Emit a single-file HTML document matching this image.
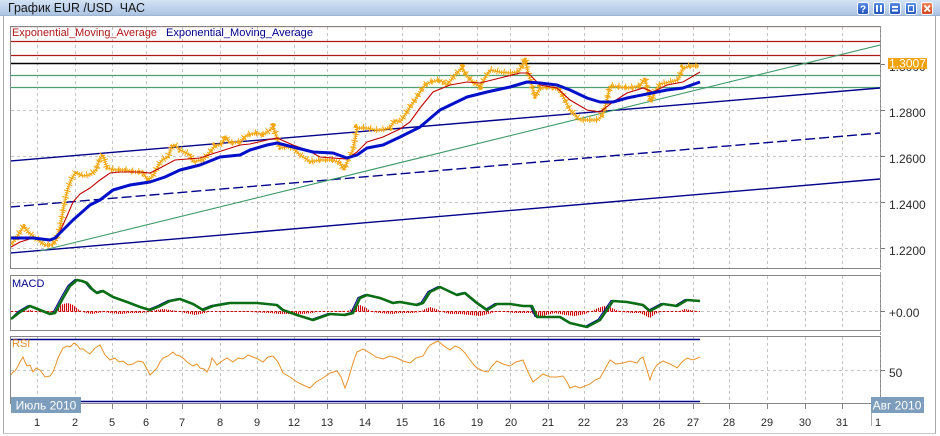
<!DOCTYPE html>
<html><head><meta charset="utf-8"><style>
html,body{margin:0;padding:0;background:#fff;}
svg{display:block;font-family:"Liberation Sans","DejaVu Sans",sans-serif;}
</style></head><body>
<svg width="940" height="436" viewBox="0 0 940 436" xmlns="http://www.w3.org/2000/svg">
<defs>
<linearGradient id="tb" x1="0" y1="0" x2="0" y2="1"><stop offset="0" stop-color="#d4e3f5"/><stop offset="1" stop-color="#a8c1e1"/></linearGradient>
<linearGradient id="bb" x1="0" y1="0" x2="0" y2="1"><stop offset="0" stop-color="#5b8fe6"/><stop offset="1" stop-color="#1f50b8"/></linearGradient>
<linearGradient id="br" x1="0" y1="0" x2="0" y2="1"><stop offset="0" stop-color="#f08a5a"/><stop offset="1" stop-color="#d0401c"/></linearGradient>
<clipPath id="cm"><rect x="11" y="27" width="869" height="241"/></clipPath>
<pattern id="hp" width="2" height="4" patternUnits="userSpaceOnUse"><rect x="0" y="0" width="1.1" height="4" fill="#d00000"/></pattern>
</defs>
<rect width="940" height="436" fill="#fff"/>
<rect x="0" y="0" width="940" height="16" fill="url(#tb)"/>
<line x1="0" y1="15.5" x2="940" y2="15.5" stroke="#9fb4cf"/>
<text x="8" y="12" font-size="12.5" fill="#151515" textLength="137" lengthAdjust="spacingAndGlyphs">График EUR /USD&#160;&#160;ЧАС</text>
<g stroke="#fff" stroke-width="1">
<rect x="857.5" y="2.5" width="11" height="12" rx="2" fill="url(#bb)"/>
<rect x="873.5" y="2.5" width="11" height="12" rx="2" fill="url(#bb)"/>
<rect x="889.5" y="2.5" width="11" height="12" rx="2" fill="url(#bb)"/>
<rect x="905.5" y="2.5" width="11" height="12" rx="2" fill="url(#bb)"/>
<rect x="921.5" y="2.5" width="11" height="12" rx="2" fill="url(#br)"/>
</g>
<text x="863" y="12.5" font-size="10" font-weight="bold" fill="#fff" text-anchor="middle">?</text>
<rect x="876" y="5" width="2" height="7" fill="#fff"/><rect x="880" y="5" width="2" height="7" fill="#fff"/>
<rect x="892" y="6" width="6" height="2" fill="#fff"/><rect x="892" y="9.5" width="6" height="2" fill="#fff"/>
<rect x="908.5" y="5.5" width="5" height="6" fill="none" stroke="#fff" stroke-width="1.2"/>
<path d="M924.5 5.5 L930 11.5 M930 5.5 L924.5 11.5" stroke="#fff" stroke-width="1.8"/>
<line x1="3.5" y1="16" x2="3.5" y2="433" stroke="#a8a8a8"/>
<line x1="935.5" y1="16" x2="935.5" y2="433" stroke="#a8a8a8"/>
<line x1="3" y1="433.5" x2="936" y2="433.5" stroke="#c8c8c8"/>

<path fill="none" stroke="#c4c4c4" stroke-dasharray="3,3" d="
M37.5 27V268M37.5 276V330M37.5 337V403
M75.5 27V268M75.5 276V330M75.5 337V403
M112.5 27V268M112.5 276V330M112.5 337V403
M146.5 27V268M146.5 276V330M146.5 337V403
M182.5 27V268M182.5 276V330M182.5 337V403
M220.5 27V268M220.5 276V330M220.5 337V403
M257.5 27V268M257.5 276V330M257.5 337V403
M294.5 27V268M294.5 276V330M294.5 337V403
M327.5 27V268M327.5 276V330M327.5 337V403
M365.5 27V268M365.5 276V330M365.5 337V403
M402.5 27V268M402.5 276V330M402.5 337V403
M439.5 27V268M439.5 276V330M439.5 337V403
M477.5 27V268M477.5 276V330M477.5 337V403
M510.5 27V268M510.5 276V330M510.5 337V403
M548.5 27V268M548.5 276V330M548.5 337V403
M584.5 27V268M584.5 276V330M584.5 337V403
M622.5 27V268M622.5 276V330M622.5 337V403
M659.5 27V268M659.5 276V330M659.5 337V403
M693.5 27V268M693.5 276V330M693.5 337V403
M729.5 27V268M729.5 276V330M729.5 337V403
M767.5 27V268M767.5 276V330M767.5 337V403
M805.5 27V268M805.5 276V330M805.5 337V403
M842.5 27V268M842.5 276V330M842.5 337V403"/>
<g stroke="#c4c4c4" stroke-dasharray="3,3" stroke-width="1">
<line x1="11" y1="110.5" x2="880" y2="110.5"/>
<line x1="11" y1="156.5" x2="880" y2="156.5"/>
<line x1="11" y1="202.5" x2="880" y2="202.5"/>
<line x1="11" y1="248.5" x2="880" y2="248.5"/>
<line x1="11" y1="311.5" x2="880" y2="311.5"/>
<line x1="11" y1="370.5" x2="880" y2="370.5"/>
</g>

<g fill="none" stroke="#858585" stroke-width="1">
<rect x="10.5" y="26.5" width="870" height="242"/>
<rect x="10.5" y="275.5" width="870" height="55"/>
<rect x="10.5" y="336.5" width="870" height="67"/>
</g>
<line x1="880.5" y1="27" x2="880.5" y2="404" stroke="#9a9a9a" stroke-dasharray="3,2"/>

<g clip-path="url(#cm)">
<line x1="10" y1="26.5" x2="881" y2="26.5" stroke="#b01818" stroke-width="1.2"/>
<line x1="10" y1="41.5" x2="881" y2="41.5" stroke="#b01818" stroke-width="1.2"/>
<line x1="10" y1="55.5" x2="881" y2="55.5" stroke="#b01818" stroke-width="1.2"/>
<line x1="10" y1="63.5" x2="881" y2="63.5" stroke="#000" stroke-width="1.5"/>
<line x1="10" y1="75.5" x2="881" y2="75.5" stroke="#4e9e72" stroke-width="1.2"/>
<line x1="10" y1="87.5" x2="881" y2="87.5" stroke="#4e9e72" stroke-width="1.2"/>
<line x1="10" y1="161" x2="880" y2="88" stroke="#00008b" stroke-width="1.4"/>
<line x1="10" y1="207" x2="880" y2="133" stroke="#00008b" stroke-width="1.4" stroke-dasharray="10,4"/>
<line x1="10" y1="253" x2="880" y2="179" stroke="#00008b" stroke-width="1.4"/>
<line x1="40" y1="251" x2="880" y2="45" stroke="#3f9a6b" stroke-width="1.1"/>
<g fill="none" stroke="#f3a70e" stroke-linejoin="round">
<polyline stroke-width="1.3" points="11,244 15,240 20,232 24,226 28,232 33,236 38,240 45,245 52,245 56,240 60,228 64,205 68,188 72,178 76,172 82,176 90,175 96,170 100,158 103,155 107,168 115,170 125,170 135,172 142,172 148,180 153,176 158,166 162,160 168,157 172,146 175,145 180,150 190,155 193,162 200,160 203,160 210,152 215,146 222,144 225,136 230,143 240,142 247,135 257,133 263,135 270,130 273,127 277,138 280,148 287,147 293,148 300,155 305,158 310,162 320,160 333,160 340,163 344,170 348,160 353,150 357,128 367,128 375,130 380,130 390,128 395,120 400,122 405,115 410,107 415,100 420,92 425,85 430,82 440,80 447,85 455,75 462,68 467,76 473,82 480,87 485,78 490,70 500,72 510,73 518,72 523,65 525,58 528,72 532,86 535,97 540,88 550,87 560,90 565,100 570,110 575,115 580,120 590,120 598,120 603,114 607,100 610,86 620,87 630,88 640,86 645,78 648,92 651,102 655,92 660,84 670,82 678,80 683,68 690,66 699,66"/>
<polyline stroke-width="4" stroke-dasharray="1,1.2" points="11,244 15,240 20,232 24,226 28,232 33,236 38,240 45,245 52,245 56,240 60,228 64,205 68,188 72,178 76,172 82,176 90,175 96,170 100,158 103,155 107,168 115,170 125,170 135,172 142,172 148,180 153,176 158,166 162,160 168,157 172,146 175,145 180,150 190,155 193,162 200,160 203,160 210,152 215,146 222,144 225,136 230,143 240,142 247,135 257,133 263,135 270,130 273,127 277,138 280,148 287,147 293,148 300,155 305,158 310,162 320,160 333,160 340,163 344,170 348,160 353,150 357,128 367,128 375,130 380,130 390,128 395,120 400,122 405,115 410,107 415,100 420,92 425,85 430,82 440,80 447,85 455,75 462,68 467,76 473,82 480,87 485,78 490,70 500,72 510,73 518,72 523,65 525,58 528,72 532,86 535,97 540,88 550,87 560,90 565,100 570,110 575,115 580,120 590,120 598,120 603,114 607,100 610,86 620,87 630,88 640,86 645,78 648,92 651,102 655,92 660,84 670,82 678,80 683,68 690,66 699,66"/>
<polyline stroke-width="7" stroke-dasharray="1,5.7" transform="translate(0,-0.5)" points="11,244 15,240 20,232 24,226 28,232 33,236 38,240 45,245 52,245 56,240 60,228 64,205 68,188 72,178 76,172 82,176 90,175 96,170 100,158 103,155 107,168 115,170 125,170 135,172 142,172 148,180 153,176 158,166 162,160 168,157 172,146 175,145 180,150 190,155 193,162 200,160 203,160 210,152 215,146 222,144 225,136 230,143 240,142 247,135 257,133 263,135 270,130 273,127 277,138 280,148 287,147 293,148 300,155 305,158 310,162 320,160 333,160 340,163 344,170 348,160 353,150 357,128 367,128 375,130 380,130 390,128 395,120 400,122 405,115 410,107 415,100 420,92 425,85 430,82 440,80 447,85 455,75 462,68 467,76 473,82 480,87 485,78 490,70 500,72 510,73 518,72 523,65 525,58 528,72 532,86 535,97 540,88 550,87 560,90 565,100 570,110 575,115 580,120 590,120 598,120 603,114 607,100 610,86 620,87 630,88 640,86 645,78 648,92 651,102 655,92 660,84 670,82 678,80 683,68 690,66 699,66"/>
</g>
<polyline fill="none" stroke="#c00000" stroke-width="1.1" points="11,247 20,242 33,238 50,240 57,238 67,216 73,202 80,194 90,188 100,180 110,173 120,172 140,172 150,173 160,168 175,160 200,158 215,153 240,145 250,144 267,140 277,138 293,145 307,150 320,157 333,158 347,159 357,152 367,142 383,137 400,129 410,122 420,108 433,92 450,85 467,82 480,83 500,78 520,73 528,73 540,85 557,88 570,100 587,110 600,112 613,102 627,93 643,88 653,92 667,85 683,82 700,72"/>
<polyline fill="none" stroke="#0010c8" stroke-width="3" stroke-linejoin="round" points="11,238 33,238 50,240 55,238 60,233 73,220 90,205 100,200 113,190 130,185 150,182 165,177 180,170 200,165 220,157 240,155 250,150 267,145 277,143 293,147 313,152 333,153 347,158 357,155 367,148 383,145 400,137 420,127 440,110 467,97 487,92 510,87 527,82 540,83 557,85 570,90 587,98 600,102 613,102 627,98 647,94 667,90 683,88 700,82"/>
</g>

<text x="12" y="36" font-size="11" fill="#b01818" textLength="145" lengthAdjust="spacingAndGlyphs">Exponential_Moving_Average</text>
<text x="166" y="36" font-size="11" fill="#00008b" textLength="147" lengthAdjust="spacingAndGlyphs">Exponential_Moving_Average</text>

<line x1="11" y1="311.5" x2="700" y2="311.5" stroke="#d00000" stroke-dasharray="2,2"/>
<polygon fill="url(#hp)" points="11,311.5 20,312 30,310 38,312 48,313 55,311 58,307 63,304 68,303 73,305 78,309 82,311.5 86,313 92,314 98,313 104,312 110,313 120,314 130,313 140,313 150,312 156,310 163,309 170,310 178,311 185,313 195,315 205,313 212,311 220,312 230,312 250,312 270,313 280,314 292,314 302,314 312,313 322,311 335,312 345,312 350,310 355,306 360,305 366,308 372,312 380,313 392,314 400,313 412,313 420,312 425,309 430,307 436,309 442,312 450,314 460,314 470,315 480,316 488,314 495,312 505,312 515,313 525,313 532,313 536,317 540,318 546,315 555,313 565,315 575,316 585,314 592,311 598,308 604,306 610,307 616,310 622,312 632,313 640,313 646,316 650,318 655,314 662,311 670,312 680,311 685,309 690,310 700,311.5"/>
<polyline fill="none" stroke="#00008b" stroke-width="1" transform="translate(-2,-0.5)" points="13,319 20,312 30,306 40,310 50,314 55,313 63,298 70,286 77,280 82,281 87,283 92,289 97,293 103,291 113,297 127,302 140,307 150,310 160,306 170,301 180,299 193,304 203,310 213,306 230,303 257,303 277,305 283,310 297,315 313,320 330,314 345,315 353,313 360,298 367,295 380,298 393,303 400,302 417,305 423,303 430,292 440,287 457,295 465,293 477,303 487,310 497,304 510,304 523,306 532,306 537,317 560,317 570,323 587,327 600,320 613,301 627,302 643,305 650,311 663,304 677,306 687,300 700,301"/>
<polyline fill="none" stroke="#0a6e14" stroke-width="2.6" stroke-linejoin="round" points="11,319 20,312 30,306 40,310 50,314 55,313 63,298 70,286 77,280 82,281 87,283 92,289 97,293 103,291 113,297 127,302 140,307 150,310 160,306 170,301 180,299 193,304 203,310 213,306 230,303 257,303 277,305 283,310 297,315 313,320 330,314 345,315 353,313 360,298 367,295 380,298 393,303 400,302 417,305 423,303 430,292 440,287 457,295 465,293 477,303 487,310 497,304 510,304 523,306 532,306 537,317 560,317 570,323 587,327 600,320 613,301 627,302 643,305 650,311 663,304 677,306 687,300 700,301"/>
<text x="12" y="287" font-size="11" fill="#00008b">MACD</text>

<line x1="11" y1="339.5" x2="700" y2="339.5" stroke="#00008b" stroke-width="1.4"/>
<line x1="11" y1="401.5" x2="700" y2="401.5" stroke="#00008b" stroke-width="1.4"/>
<polyline fill="none" stroke="#e8922a" stroke-width="1" points="11,375 13,372 15,371 18,366 20,362 23,357 25,362 27,366 30,365 33,372 36,368 40,370 43,374 45,377 50,376 53,372 56,364 58,358 61,352 63,348 67,346 70,347 74,343 77,345 80,349 83,349 87,352 90,354 95,348 100,345 103,351 105,355 110,360 115,358 119,362 123,361 128,365 133,364 138,361 143,362 147,369 150,375 154,371 157,368 160,362 163,358 168,356 173,352 176,355 180,356 184,359 187,362 193,366 197,364 200,368 204,369 207,372 210,366 212,358 215,362 217,365 222,361 227,358 230,360 233,362 238,358 243,359 248,355 253,357 258,359 263,362 268,357 273,356 278,362 283,373 290,377 297,382 303,385 310,388 316,382 323,378 330,373 337,371 341,377 345,388 348,380 350,373 354,360 357,352 363,349 370,353 376,357 383,359 390,356 397,358 403,361 410,363 416,358 423,356 427,349 430,345 434,343 438,341 444,346 450,350 455,346 460,348 465,353 470,360 474,365 477,368 483,371 488,372 492,366 497,361 503,364 510,366 516,362 523,360 528,372 533,382 538,378 543,374 550,377 557,377 563,376 567,382 570,388 575,386 580,388 585,386 590,384 595,380 600,378 605,369 610,360 616,364 623,363 630,361 637,363 640,359 643,357 647,370 650,380 653,371 657,365 663,361 670,364 674,366 677,368 682,362 687,358 693,360 700,357"/>
<text x="12" y="347" font-size="11" fill="#e8922a">RSI</text>

<g stroke="#777">
<line x1="881" y1="64.5" x2="885" y2="64.5"/>
<line x1="881" y1="110.5" x2="885" y2="110.5"/>
<line x1="881" y1="156.5" x2="885" y2="156.5"/>
<line x1="881" y1="202.5" x2="885" y2="202.5"/>
<line x1="881" y1="248.5" x2="885" y2="248.5"/>
<line x1="881" y1="311.5" x2="885" y2="311.5"/>
<line x1="881" y1="370.5" x2="885" y2="370.5"/>
</g>
<g font-size="12" fill="#2a2a2a">
<text x="889" y="71">1.3000</text>
<text x="889" y="117">1.2800</text>
<text x="889" y="163">1.2600</text>
<text x="889" y="209">1.2400</text>
<text x="889" y="255">1.2200</text>
<text x="889" y="317">+0.00</text>
<text x="889" y="377">50</text>
</g>
<rect x="888" y="58" width="39" height="11" fill="#f2a20a"/>
<text x="889" y="67.5" font-size="12" fill="#fff" textLength="37" lengthAdjust="spacingAndGlyphs">1.3007</text>

<path fill="none" stroke="#888" d="M37.5 404V409M75.5 404V409M112.5 404V409M146.5 404V409M182.5 404V409M220.5 404V409M257.5 404V409M294.5 404V409M327.5 404V409M365.5 404V409M402.5 404V409M439.5 404V409M477.5 404V409M510.5 404V409M548.5 404V409M584.5 404V409M622.5 404V409M659.5 404V409M693.5 404V409M729.5 404V409M767.5 404V409M805.5 404V409M842.5 404V409"/>
<line x1="871.5" y1="413" x2="871.5" y2="426" stroke="#aaa"/>
<g font-size="11" fill="#2a2a2a" text-anchor="middle">
<text x="37" y="426">1</text><text x="75" y="426">2</text><text x="112" y="426">5</text>
<text x="146" y="426">6</text><text x="182" y="426">7</text><text x="220" y="426">8</text>
<text x="257" y="426">9</text><text x="294" y="426">12</text><text x="327" y="426">13</text>
<text x="365" y="426">14</text><text x="402" y="426">15</text><text x="439" y="426">16</text>
<text x="477" y="426">19</text><text x="511" y="426">20</text><text x="548" y="426">21</text>
<text x="584" y="426">22</text><text x="622" y="426">23</text><text x="659" y="426">26</text>
<text x="693" y="426">27</text><text x="729" y="426">28</text><text x="767" y="426">29</text>
<text x="805" y="426">30</text><text x="842" y="426">31</text><text x="878" y="426">1</text>
</g>
<rect x="11" y="397" width="70" height="16" fill="#7d9dbd"/>
<text x="46" y="409.5" font-size="12" fill="#fff" text-anchor="middle">Июль 2010</text>
<rect x="871" y="397" width="53" height="16" fill="#7d9dbd"/>
<text x="897" y="409.5" font-size="12" fill="#fff" text-anchor="middle">Авг 2010</text>
</svg>
</body></html>
